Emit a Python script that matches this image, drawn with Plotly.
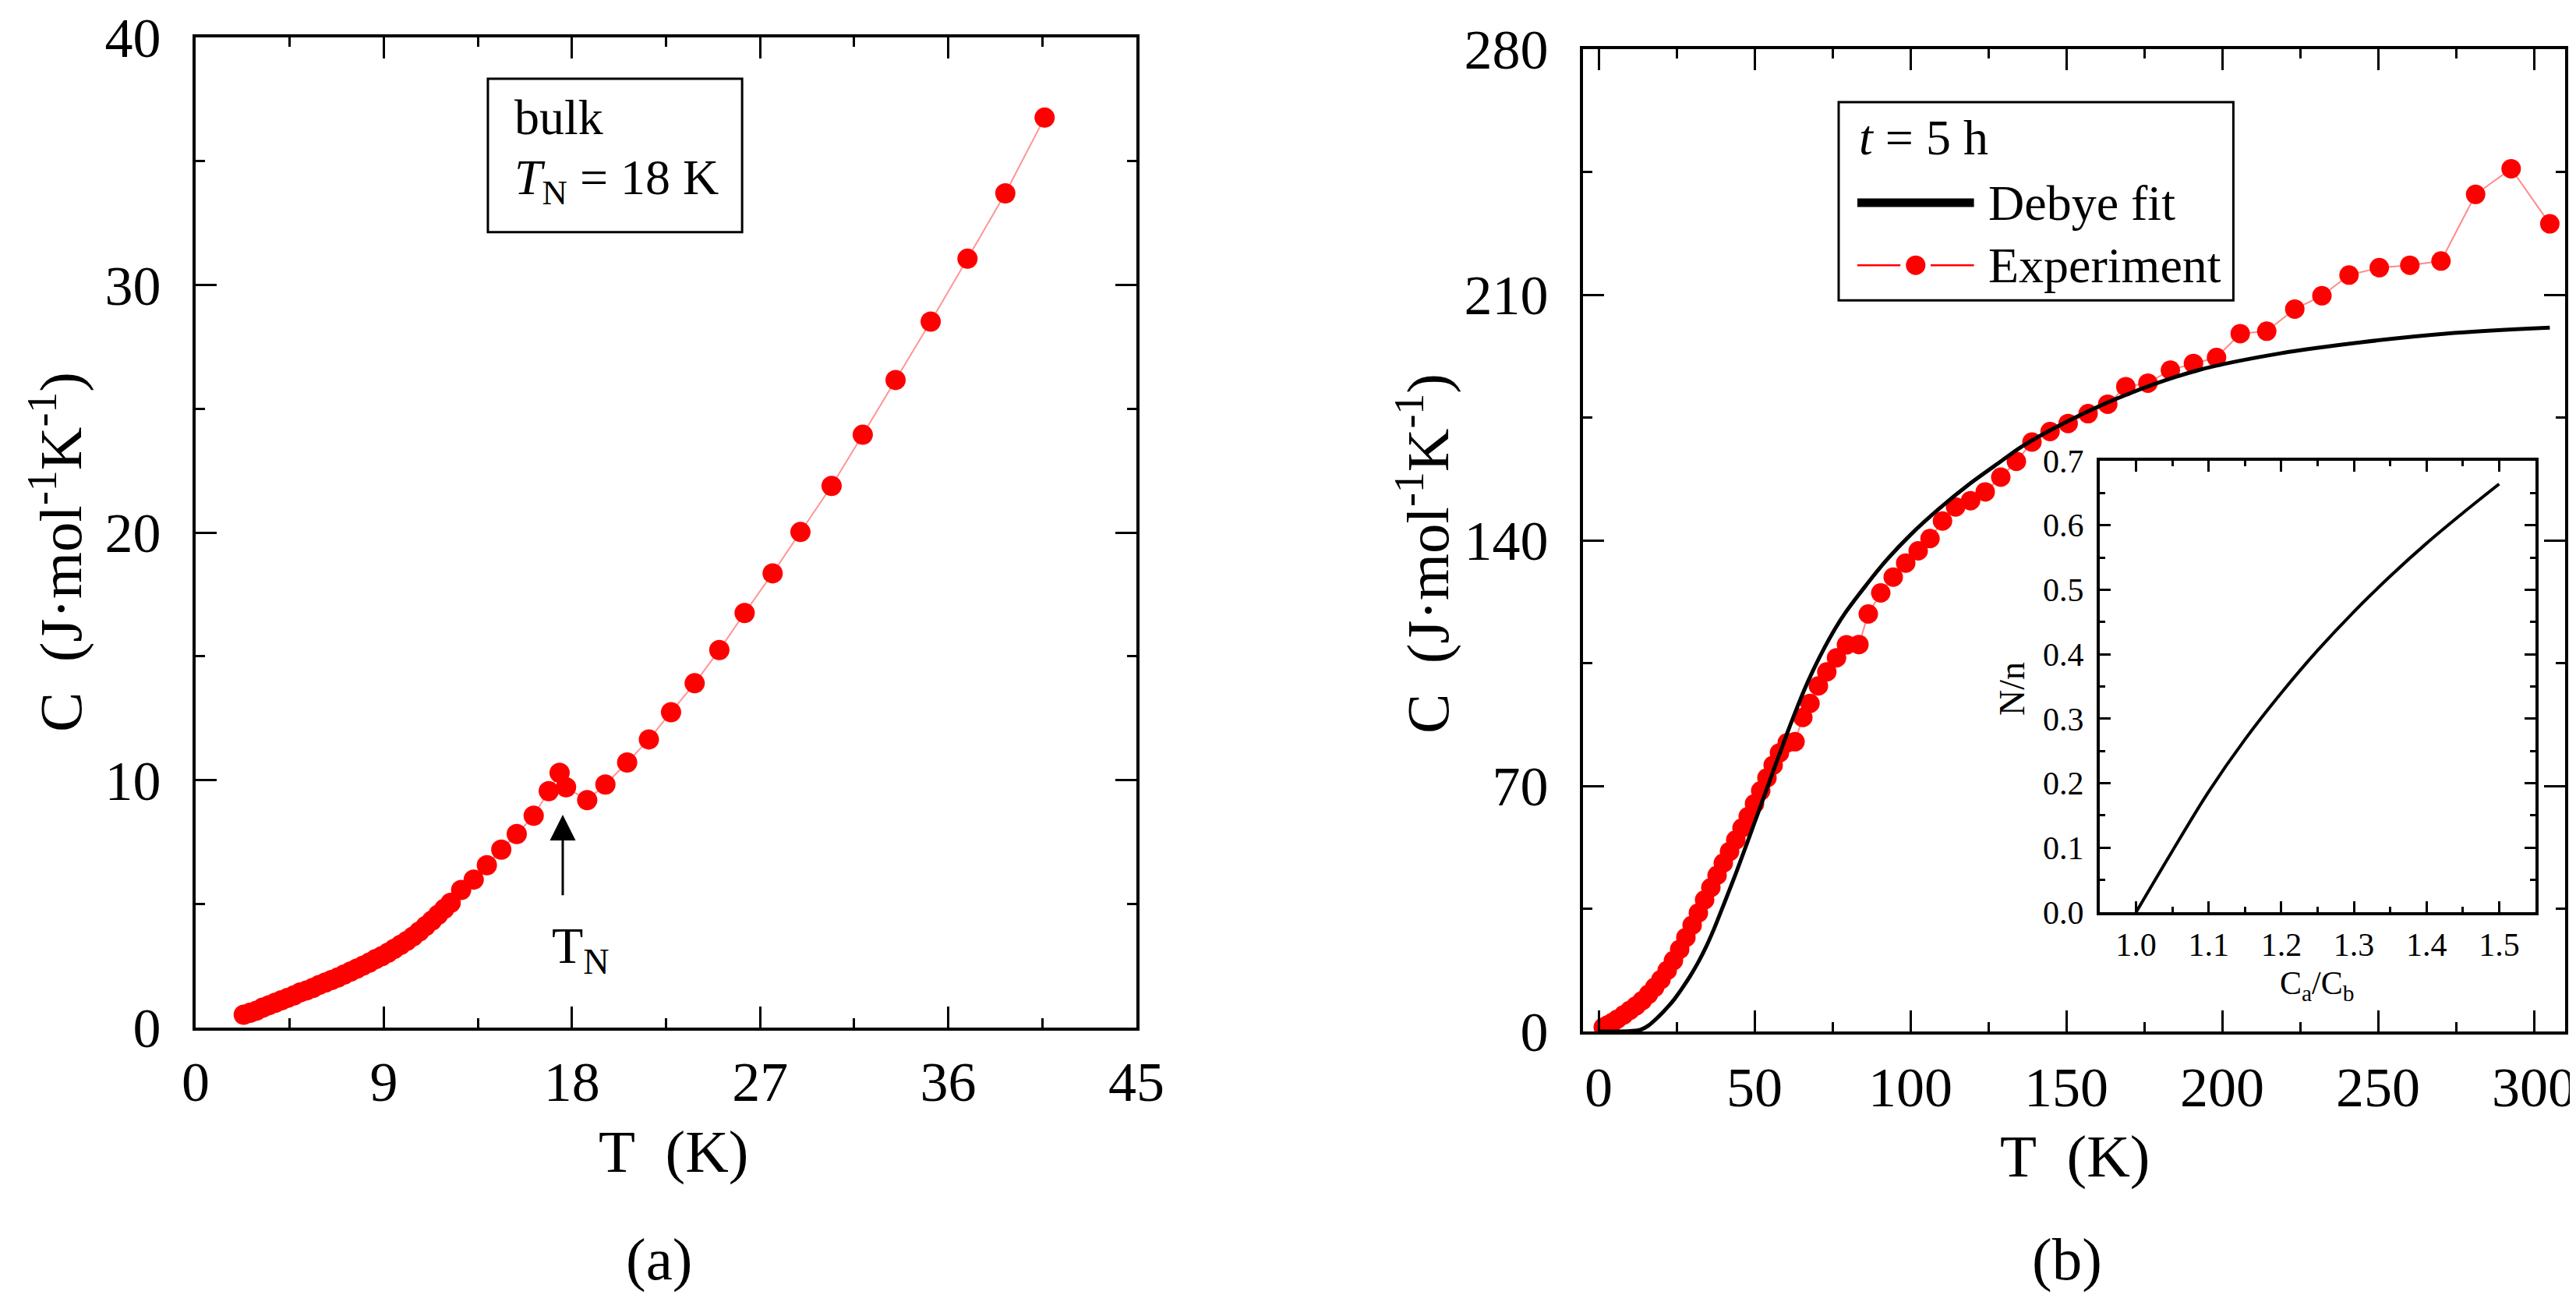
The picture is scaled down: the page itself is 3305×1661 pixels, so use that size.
import plotly.graph_objects as go

# ---- panel (a): bulk sample ----
bulk_T = [2.3, 2.6, 2.9, 3.2, 3.5, 3.8, 4.1, 4.4, 4.7, 5.0, 5.3, 5.6, 5.9, 6.2, 6.5,
          6.8, 7.1, 7.4, 7.7, 8.0, 8.3, 8.6, 8.9, 9.2, 9.5, 9.8, 10.1, 10.4, 10.7,
          11.0, 11.3, 11.6, 11.9, 12.2, 12.7, 13.3, 13.93, 14.62, 15.36, 16.17,
          16.89, 17.41, 17.72, 18.73, 19.6, 20.64, 21.68, 22.74, 23.87, 25.05,
          26.26, 27.6, 28.93, 30.42, 31.91, 33.48, 35.16, 36.92, 38.73, 40.61]
bulk_C = [0.52, 0.6, 0.68, 0.8, 0.9, 1.0, 1.1, 1.2, 1.3, 1.42, 1.5, 1.6, 1.72, 1.82, 1.92,
          2.02, 2.14, 2.26, 2.38, 2.5, 2.62, 2.76, 2.88, 3.02, 3.18, 3.34, 3.5, 3.68, 3.88,
          4.1, 4.32, 4.56, 4.8, 5.04, 5.56, 5.98, 6.56, 7.19, 7.82, 8.56,
          9.55, 10.29, 9.71, 9.19, 9.82, 10.71, 11.64, 12.74, 13.91, 15.25,
          16.75, 18.35, 20.02, 21.88, 23.95, 26.16, 28.52, 31.06, 33.7, 36.76]

# ---- panel (b): t = 5 h ----
exp_T = [1.5, 3, 4.5, 6, 8, 10, 12, 14, 16, 18, 20, 22, 24, 26, 28, 30, 32, 34, 36, 38,
         40, 42, 44, 46, 48, 50, 52, 54, 56, 58, 60.5, 63, 65.5, 67.8, 70.5, 73.2,
         76.3, 79.5, 83.5, 86.5, 90.5, 94.5, 98.5, 102.5, 106.3, 110.3, 114.5, 119.3,
         124.0, 129.0, 134.0, 139.0, 144.8, 150.6, 157.0, 163.3, 169.1, 176.2, 183.4,
         190.8, 198.2, 205.8, 214.3, 223.3, 232.0, 240.7, 250.4, 260.2, 270.2, 281.3,
         292.7, 305.1]
exp_C = [1.2, 1.9, 2.6, 3.5, 4.7, 6.0, 7.3, 8.8, 10.6, 12.6, 14.8, 17.4, 20.2, 23.4, 26.8,
         30.3, 33.8, 37.5, 41.0, 44.5, 48.0, 51.3, 54.6, 58.0, 61.3, 64.9, 68.6, 72.3,
         75.9, 79.4, 82.3, 82.6, 89.5, 93.5, 98.5, 102.5, 106.5, 110.2, 110.3, 119.0,
         125.0, 129.5, 133.5, 137.0, 140.5, 145.5, 149.5, 151.3, 153.8, 158.0, 162.5,
         168.0, 171.0, 173.3, 176.1, 178.8, 183.8, 184.8, 188.5, 190.4, 192.1, 198.9,
         199.6, 205.9, 209.7, 215.6, 217.7, 218.4, 219.6, 238.6, 245.9, 230.2]

debye_T = [0, 5, 10, 13.5, 16, 19.3, 22, 24.3, 27, 29.3, 32, 34.3, 37, 39.3, 42, 44.3,
           47, 50, 53, 56, 58.5, 60.9, 63, 65.7, 69, 72.4, 76, 79.1, 85.8, 92.4, 100.2,
           109.1, 119.2, 129.2, 135.9, 150.6, 169, 192.4, 218.8, 245.2, 271.6, 305.1]
debye_C = [0, 0.0, 0.1, 0.5, 1.7, 4.3, 6.8, 9.2, 12.6, 15.7, 19.8, 23.8, 29.2, 34.3,
           40.4, 45.7, 52.2, 59.5, 66.8, 74.2, 80.2, 86.0, 90.8, 96.8, 103.3, 109.3,
           115.0, 119.3, 127.2, 134.4, 141.7, 148.9, 156.2, 162.6, 166.8, 174.0, 181.4,
           188.5, 193.3, 196.5, 198.9, 200.6]

# ---- inset: N/n vs Ca/Cb ----
ratio = [1.0, 1.05, 1.1, 1.15, 1.2, 1.25, 1.3, 1.35, 1.4, 1.45, 1.5]
frac = [0.0, 0.095, 0.187, 0.268, 0.34, 0.406, 0.466, 0.521, 0.572, 0.619, 0.664]

FONT = "Liberation Serif"
RED = "#ff0000"
W, H = 3305, 1661


def px_x(v):
    return v / W


def px_y(v):
    return 1 - v / H


def main_axis(rng, dtick, minor_dtick, domain, anchor, standoff):
    return dict(
        range=rng,
        domain=domain,
        anchor=anchor,
        automargin=False,
        dtick=dtick,
        tick0=0,
        showline=True,
        linewidth=4,
        linecolor="black",
        mirror="ticks",
        ticks="inside",
        ticklen=27,
        tickwidth=3,
        tickcolor="black",
        minor=dict(ticks="inside", dtick=minor_dtick, ticklen=12, tickwidth=3, tickcolor="black"),
        showgrid=False,
        zeroline=False,
        tickfont=dict(family=FONT, size=72, color="black"),
        ticklabelstandoff=standoff,
    )


fig = go.Figure()

fig.add_trace(go.Scatter(
    x=bulk_T, y=bulk_C, mode="lines+markers", xaxis="x", yaxis="y",
    line=dict(color="rgba(255,60,60,0.55)", width=2),
    marker=dict(color=RED, size=26), showlegend=False,
))
fig.add_trace(go.Scatter(
    x=exp_T, y=exp_C, mode="lines+markers", xaxis="x2", yaxis="y2",
    line=dict(color="rgba(255,60,60,0.6)", width=2),
    marker=dict(color=RED, size=25), showlegend=False,
))
fig.add_trace(go.Scatter(
    x=debye_T, y=debye_C, mode="lines", xaxis="x2", yaxis="y2",
    line=dict(color="black", width=5, shape="spline"), showlegend=False,
))
fig.add_trace(go.Scatter(
    x=ratio, y=frac, mode="lines", xaxis="x3", yaxis="y3",
    line=dict(color="black", width=4, shape="spline"), showlegend=False,
))

inset_axis = dict(
    automargin=False,
    showline=True, linewidth=4, linecolor="black", mirror="ticks",
    ticks="inside", ticklen=14, tickwidth=3, tickcolor="black",
    showgrid=False, zeroline=False,
    tickfont=dict(family=FONT, size=42, color="black"),
    tickformat=".1f",
)

fig.update_layout(
    template="none",
    width=W, height=H,
    margin=dict(l=0, r=0, t=0, b=0),
    paper_bgcolor="white", plot_bgcolor="rgba(0,0,0,0)",
    font=dict(family=FONT, color="black"),
    xaxis=main_axis([0, 45], 9, 4.5, [px_x(243), px_x(1450)], "y", 4),
    yaxis=main_axis([0, 40], 10, 5, [px_y(1310), px_y(40)], "x", 26),
    xaxis2=main_axis([-5, 310], 50, 25, [px_x(2023), px_x(3283)], "y2", 6),
    yaxis2=main_axis([0, 280], 70, 35, [px_y(1315), px_y(55)], "x2", 26),
    xaxis3=dict(inset_axis, range=[0.95, 1.55], dtick=0.1, tick0=1.0,
                domain=[px_x(2686), px_x(3245)], anchor="y3", ticklabelstandoff=2,
                minor=dict(ticks="inside", dtick=0.05, ticklen=7, tickwidth=3, tickcolor="black")),
    yaxis3=dict(inset_axis, range=[0, 0.7], dtick=0.1, tick0=0,
                domain=[px_y(1162), px_y(583)], anchor="x3", ticklabelstandoff=8,
                minor=dict(ticks="inside", dtick=0.05, ticklen=7, tickwidth=3, tickcolor="black")),
)

shapes = [
    # text box in panel (a)
    dict(type="rect", xref="x", yref="y", x0=13.98, x1=26.14, y0=32.13, y1=38.33,
         line=dict(color="black", width=3)),
    # legend box in panel (b)
    dict(type="rect", xref="x2", yref="y2", x0=77.0, x1=203.6, y0=208.4, y1=264.9,
         line=dict(color="black", width=3)),
    dict(type="line", xref="x2", yref="y2", x0=83, x1=120.4, y0=236.2, y1=236.2,
         line=dict(color="black", width=11)),
    dict(type="line", xref="x2", yref="y2", x0=83, x1=96.8, y0=218.4, y1=218.4,
         line=dict(color=RED, width=2.5)),
    dict(type="line", xref="x2", yref="y2", x0=106.5, x1=120.4, y0=218.4, y1=218.4,
         line=dict(color=RED, width=2.5)),
]
fig.update_layout(shapes=shapes)

# legend dot for Experiment
fig.add_trace(go.Scatter(
    x=[101.7], y=[218.4], mode="markers", xaxis="x2", yaxis="y2",
    marker=dict(color=RED, size=25), showlegend=False, hoverinfo="skip",
))

big = dict(family=FONT, size=77, color="black")
mid = dict(family=FONT, size=64, color="black")
small = dict(family=FONT, size=42, color="black")


def note(x, y, text, font, ref="paper", xanchor="center", angle=0):
    xr, yr = ("paper", "paper") if ref == "paper" else ref
    return dict(xref=xr, yref=yr, x=x, y=y, text=text, font=font, showarrow=False,
                xanchor=xanchor, yanchor="middle", textangle=angle)


ylabel = "C\u00a0\u00a0(J·mol<sup>-1</sup>K<sup>-1</sup>)"
annotations = [
    # panel (a)
    note(px_x(64), px_y(700), ylabel, big, angle=-90),
    note(px_x(856), px_y(1469), "T\u00a0\u00a0(K)", big),
    note(px_x(838), px_y(1607), "(a)", big),
    note(15.18, 36.76, "bulk", mid, ref=("x", "y"), xanchor="left"),
    note(15.18, 34.2, "<i>T</i><sub>N</sub> = 18 K", mid, ref=("x", "y"), xanchor="left"),
    dict(xref="x", yref="y", x=17.56, y=8.6, ax=17.56, ay=5.3, axref="x", ayref="y",
         text="", showarrow=True, arrowhead=2, arrowsize=2.2, arrowwidth=3, arrowcolor="black"),
    note(18.4, 3.15, "T<sub>N</sub>", dict(family=FONT, size=66, color="black"), ref=("x", "y")),
    # panel (b)
    note(px_x(1818), px_y(702), ylabel, big, angle=-90),
    note(px_x(2654), px_y(1475), "T\u00a0\u00a0(K)", big),
    note(px_x(2644), px_y(1607), "(b)", big),
    note(83, 254.7, "<i>t</i> = 5 h", mid, ref=("x2", "y2"), xanchor="left"),
    note(124.4, 236.2, "Debye fit", mid, ref=("x2", "y2"), xanchor="left"),
    note(124.4, 218.4, "Experiment", mid, ref=("x2", "y2"), xanchor="left"),
    # inset titles
    note(px_x(2964), px_y(1256), "C<sub>a</sub>/C<sub>b</sub>", small),
    note(px_x(2573), px_y(876), "N/n", dict(family=FONT, size=46, color="black"), angle=-90),
]
fig.update_layout(annotations=annotations)

fig.write_html("out.html")
